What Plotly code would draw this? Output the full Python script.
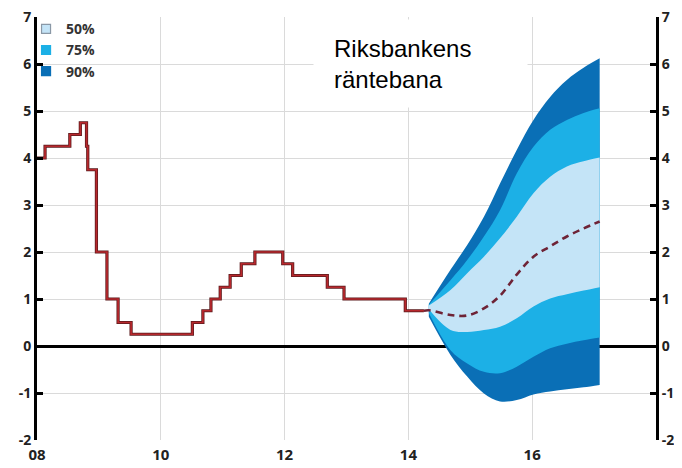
import plotly.graph_objects as go

# Repo rate history (decimal year since 2000, rate %)
hist_x = [8.0, 8.13, 8.53, 8.70, 8.80, 8.82, 8.96, 9.13, 9.31, 9.52, 10.51, 10.68,
          10.81, 10.96, 11.12, 11.30, 11.52, 11.97, 12.13, 12.69, 12.96, 13.95, 14.25]
hist_y = [4.0, 4.25, 4.5, 4.75, 4.25, 3.75, 2.0, 1.0, 0.5, 0.25, 0.5, 0.75,
          1.0, 1.25, 1.5, 1.75, 2.0, 1.75, 1.5, 1.25, 1.0, 0.75, 0.75]

# Forecast (Riksbankens räntebana)
med_x = [14.25, 14.33, 14.68, 14.95, 15.22, 15.48, 15.75, 16.02, 16.29, 16.56, 16.83, 17.09]
med_y = [0.75, 0.76, 0.66, 0.65, 0.80, 1.07, 1.52, 1.90, 2.12, 2.33, 2.50, 2.65]

fan_x = [14.33, 14.68, 14.95, 15.22, 15.48, 15.75, 16.02, 16.29, 16.56, 16.83, 17.09]
up90 = [0.90, 1.62, 2.15, 2.75, 3.46, 4.17, 4.81, 5.30, 5.66, 5.92, 6.12]
up75 = [0.88, 1.40, 1.83, 2.33, 2.89, 3.67, 4.24, 4.60, 4.81, 4.96, 5.06]
up50 = [0.86, 1.19, 1.55, 1.90, 2.29, 2.75, 3.25, 3.60, 3.82, 3.93, 4.01]
lo50 = [0.78, 0.34, 0.30, 0.34, 0.41, 0.59, 0.84, 1.01, 1.10, 1.18, 1.25]
lo75 = [0.70, -0.09, -0.37, -0.55, -0.58, -0.44, -0.23, -0.05, 0.05, 0.12, 0.18]
lo90 = [0.62, -0.19, -0.65, -1.01, -1.18, -1.15, -1.03, -0.97, -0.92, -0.88, -0.83]

band_names = ["50%", "75%", "90%"]
band_colors = ["#c4e4f7", "#1cb0e6", "#0a6fb6"]

x_ticks = [8, 10, 12, 14, 16]
x_ticktext = ["08", "10", "12", "14", "16"]
y_ticks = [-2, -1, 0, 1, 2, 3, 4, 5, 6, 7]
y_ticktext = ["-2", "-1", "0", "1", "2", "3", "4", "5", "6", "7"]

fig = go.Figure()

bands = [(lo90, up90, band_colors[2]), (lo75, up75, band_colors[1]), (lo50, up50, band_colors[0])]
for lo, up, col in bands:
    fig.add_trace(go.Scatter(x=fan_x, y=lo, mode="lines", line=dict(width=0, color=col, shape="spline"),
                             showlegend=False, hoverinfo="skip"))
    fig.add_trace(go.Scatter(x=fan_x, y=up, mode="lines", line=dict(width=0, color=col, shape="spline"),
                             fill="tonexty", fillcolor=col, showlegend=False, hoverinfo="skip"))

# historical step line (dark outline + red core)
fig.add_trace(go.Scatter(x=hist_x, y=hist_y, mode="lines", line=dict(color="#5a1a1c", width=3.2, shape="hv"),
                         showlegend=False, hoverinfo="skip"))
fig.add_trace(go.Scatter(x=hist_x, y=hist_y, mode="lines", line=dict(color="#b8282d", width=1.7, shape="hv"),
                         showlegend=False))

fig.add_trace(go.Scatter(x=med_x, y=med_y, mode="lines",
                         line=dict(color="#6e2336", width=2.6, dash="7px,5px", shape="spline"),
                         showlegend=False))

# legend entries
for name, col in zip(band_names, band_colors):
    fig.add_trace(go.Scatter(x=[None], y=[None], mode="markers", name=name,
                             marker=dict(symbol="square", size=9, color=col,
                                         line=dict(color="#8a98a6" if name == "50%" else col, width=1.2))))

# dummy for right axis
fig.add_trace(go.Scatter(x=[None], y=[None], yaxis="y2", showlegend=False, hoverinfo="skip"))

x_font = dict(family="Open Sans", size=15, color="#222222", weight="bold")
y_font = dict(family="Open Sans", size=14, color="#222222", weight="bold")

fig.update_layout(
    width=674, height=460,
    margin=dict(l=29, r=26, t=9, b=28, autoexpand=False),
    paper_bgcolor="white", plot_bgcolor="white",
    showlegend=True,
    legend=dict(x=-0.0177, y=1.009, xanchor="left", yanchor="top", bgcolor="rgba(0,0,0,0)",
                font=dict(family="Open Sans", size=14, color="#333333", weight="bold"),
                itemwidth=30, tracegroupgap=0, traceorder="normal"),
    xaxis=dict(range=[8, 18], tickvals=x_ticks, ticktext=x_ticktext, showgrid=True,
               gridcolor="#dadada", gridwidth=1, zeroline=False, showline=False, ticks="",
               tickfont=x_font, automargin=False, ticklabeloverflow="allow", ticklabelstandoff=4),
    yaxis=dict(range=[-2, 7], tickvals=y_ticks, ticktext=y_ticktext, showgrid=True,
               gridcolor="#dadada", gridwidth=1,
               zeroline=True, zerolinecolor="black", zerolinewidth=2.5,
               showline=True, linecolor="black", linewidth=3,
               ticks="inside", ticklen=6, tickwidth=2.5, tickcolor="black",
               tickfont=y_font, automargin=False, ticklabeloverflow="allow"),
    yaxis2=dict(range=[-2, 7], tickvals=y_ticks, ticktext=y_ticktext, overlaying="y", side="right",
                matches="y", showgrid=False, zeroline=False, showline=True, linecolor="black", linewidth=3,
                ticks="inside", ticklen=6, tickwidth=2.5, tickcolor="black",
                tickfont=y_font, automargin=False, ticklabeloverflow="allow"),
)

# white label box + text
fig.add_annotation(xref="paper", yref="paper", x=0.619, y=0.890, text=" ", showarrow=False,
                   width=213, height=87, bgcolor="white", borderpad=0, xanchor="center", yanchor="middle")
fig.add_annotation(xref="paper", yref="paper", x=0.4767, y=0.961, text="Riksbankens<br>räntebana",
                   showarrow=False, xanchor="left", yanchor="top", align="left",
                   font=dict(family="Liberation Sans", size=24, color="black"))

fig.write_html("out.html")
